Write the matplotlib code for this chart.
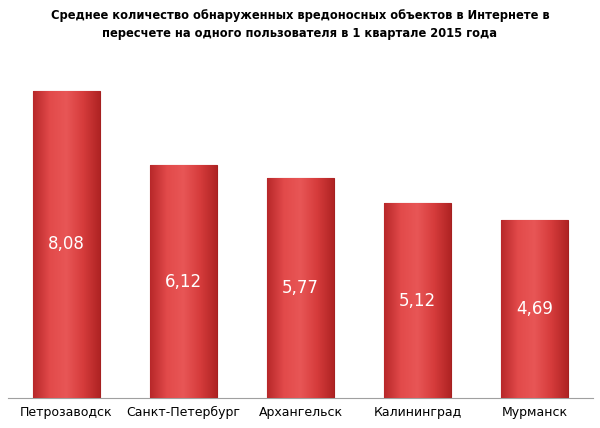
import matplotlib
matplotlib.use("Agg")
import matplotlib.pyplot as plt
import numpy as np
from matplotlib.colors import LinearSegmentedColormap

cities = ["Петрозаводск", "Санкт-Петербург", "Архангельск", "Калининград", "Мурманск"]
values = [8.08, 6.12, 5.77, 5.12, 4.69]
labels = ["8,08", "6,12", "5,77", "5,12", "4,69"]

fig = plt.figure(figsize=(6, 4.28), dpi=100)
ax = fig.add_axes([8/600, 1-398/428, 585/600, 331/428])
ax.set_xlim(-0.5, 4.5)
ax.set_ylim(0, 8.7)
w = 0.57
cmap = LinearSegmentedColormap.from_list("r", ["#b8282a", "#e24a4a", "#e85656", "#d63c3c", "#b02424"])
grad = np.linspace(0, 1, 100).reshape(1, -1)
for i, v in enumerate(values):
    b = ax.bar(i, v, width=w, color="#d63c3c", edgecolor="#a52020", linewidth=0.8, zorder=2)[0]
    im = ax.imshow(grad, cmap=cmap, aspect="auto", extent=(i - w/2, i + w/2, 0, v), zorder=3)
    im.set_clip_path(b)
    ax.text(i, v/2, labels[i], ha="center", va="center", color="white", fontsize=12, zorder=4)
ax.set_xticks(range(len(cities)))
ax.set_xticklabels(cities, fontsize=9)
ax.tick_params(axis="x", length=0, pad=6)
ax.set_yticks([])
for s in ["top", "right", "left"]:
    ax.spines[s].set_visible(False)
ax.spines["bottom"].set_color("#a0a0a0")
fig.text(0.5, 1-25/428, "Среднее количество обнаруженных вредоносных объектов в Интернете в\nпересчете на одного пользователя в 1 квартале 2015 года",
         ha="center", va="center", fontsize=8.3, fontweight="bold", linespacing=1.5)
fig.savefig("out.png", dpi=100)
